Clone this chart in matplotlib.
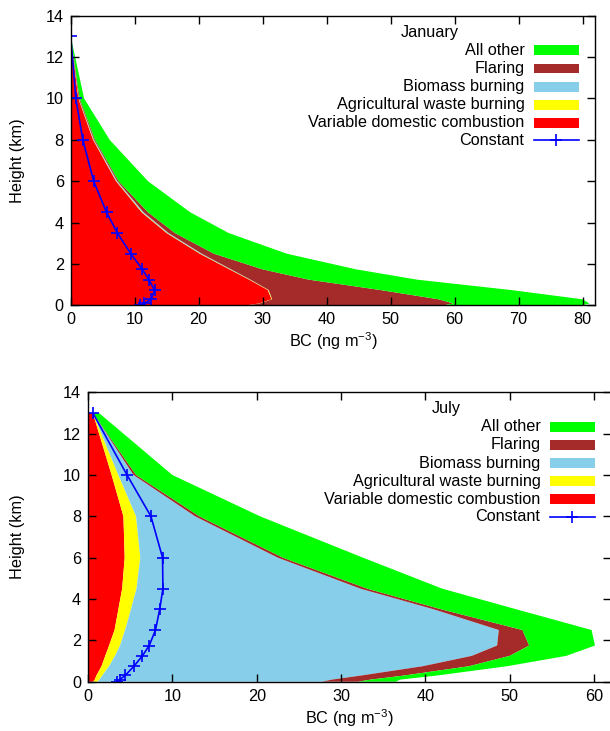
import matplotlib
matplotlib.use("Agg")
import matplotlib.pyplot as plt
import numpy as np
from matplotlib.patches import Rectangle
from matplotlib.lines import Line2D

plt.rcParams['font.family'] = ['Liberation Sans', 'DejaVu Sans']
plt.rcParams['mathtext.fontset'] = 'custom'
plt.rcParams['mathtext.rm'] = 'Liberation Sans'
plt.rcParams['mathtext.it'] = 'Liberation Sans:italic'
plt.rcParams['mathtext.bf'] = 'Liberation Sans:bold'

# ---------------- data ----------------
heights = [0, 0.1, 0.3, 0.75, 1.25, 1.75, 2.5, 3.5, 4.5, 6, 8, 10, 13]

sources = ["Variable domestic combustion", "Agricultural waste burning",
           "Biomass burning", "Flaring", "All other"]
source_colors = ["#ff0000", "#ffff00", "#87ceeb", "#a52a2a", "#00ff00"]

# January contributions (ng m-3), bottom to top
jan_domestic = [27.4, 29.5, 31.4, 30.8, 27.9, 24.8, 20.2, 15.0, 11.1, 7.1, 3.5, 1.2, 0.0]
jan_agri     = [0.1, 0.1, 0.1, 0.1, 0.1, 0.1, 0.1, 0.1, 0.1, 0.05, 0.05, 0.03, 0.0]
jan_biomass  = [0.0, 0.0, 0.0, 0.05, 0.1, 0.15, 0.2, 0.2, 0.2, 0.15, 0.1, 0.05, 0.0]
jan_flaring  = [30.7, 30.2, 26.0, 17.4, 9.1, 4.9, 1.9, 1.0, 0.7, 0.2, 0.15, 0.12, 0.0]
jan_other    = [21.7, 21.3, 22.5, 20.4, 16.9, 14.6, 11.4, 8.4, 6.6, 4.6, 2.3, 0.7, 0.0]
jan_constant = [10.9, 11.5, 12.6, 13.1, 12.2, 11.2, 9.4, 7.3, 5.6, 3.6, 1.9, 0.8, 0.0]

# July contributions (ng m-3), bottom to top
jul_domestic = [0.6, 0.8, 1.0, 1.6, 2.05, 2.5, 3.15, 3.6, 4.05, 4.35, 4.2, 2.8, 0.57]
jul_agri     = [0.5, 0.55, 0.7, 0.9, 1.15, 1.3, 1.25, 1.5, 1.7, 1.85, 1.5, 0.8, 0.0]
jul_biomass  = [26.6, 27.55, 30.7, 37.2, 42.3, 44.7, 44.3, 35.9, 26.55, 16.3, 7.0, 1.8, 0.0]
jul_flaring  = [4.3, 4.6, 5.1, 5.5, 4.5, 3.8, 2.8, 0.9, 0.8, 0.6, 0.5, 0.3, 0.0]
jul_other    = [4.5, 3.5, 3.9, 4.5, 6.7, 7.8, 8.2, 8.9, 8.9, 9.5, 7.2, 4.3, 0.73]
jul_constant = [3.45, 3.75, 4.4, 5.45, 6.45, 7.26, 8.0, 8.5, 8.88, 8.84, 7.46, 4.63, 0.57]

x_ticks_jan = [0, 10, 20, 30, 40, 50, 60, 70, 80]
x_ticks_jul = [0, 10, 20, 30, 40, 50, 60]
y_ticks = [0, 2, 4, 6, 8, 10, 12, 14]

FS = 11.7

fig = plt.figure(figsize=(6.10, 7.31), dpi=100)
ax1 = fig.add_axes([70.7 / 610, 1 - 305.5 / 731, 524.6 / 610, 289.8 / 731])
ax2 = fig.add_axes([88.0 / 610, 1 - 681.7 / 731, 523.0 / 610, 289.4 / 731])


def draw(ax, month, layers, constant, xmax, xticks):
    h = np.array(heights)
    lower = np.zeros(len(h))
    for vals, col in zip(layers, source_colors):
        upper = lower + np.array(vals)
        ax.fill_betweenx(h, lower, upper, facecolor=col, edgecolor='none', lw=0)
        lower = upper
    ax.plot(constant, h, color='#0000ff', lw=1.2, marker='+', ms=9, mew=1.2)
    ax.set_xlim(0, xmax)
    ax.set_ylim(0, 14)
    ax.set_xticks(xticks)
    ax.set_yticks(y_ticks)
    ax.tick_params(direction='in', length=6, width=1, top=True, right=True,
                   labelsize=FS, pad=5, colors='black')
    for s in ax.spines.values():
        s.set_linewidth(1.0)
    ax.set_ylabel("Height (km)", fontsize=FS, va='center')
    ax.set_xlabel("BC (ng m$^{-3}$)", fontsize=FS, va='center')

    # gnuplot-style key: right-aligned text, sample to the right
    tr = ax.transAxes
    ax.text(0.685, 0.943, month, transform=tr, ha='center', va='center', fontsize=FS)
    rows = [0.881, 0.818, 0.755, 0.693, 0.631, 0.570]
    labels = ["All other", "Flaring", "Biomass burning", "Agricultural waste burning",
              "Variable domestic combustion", "Constant"]
    cols = ["#00ff00", "#a52a2a", "#87ceeb", "#ffff00", "#ff0000"]
    for i, (lab, y) in enumerate(zip(labels, rows)):
        ax.text(0.865, y, lab, transform=tr, ha='right', va='center', fontsize=FS)
        if i < 5:
            ax.add_patch(Rectangle((0.883, y - 0.017), 0.086, 0.034, transform=tr,
                                   facecolor=cols[i], edgecolor='none', clip_on=False))
        else:
            ax.add_line(Line2D([0.883, 0.969], [y, y], transform=tr, color='#0000ff', lw=1.2))
            ax.add_line(Line2D([0.926], [y], transform=tr, color='#0000ff', marker='+',
                               ms=9, mew=1.2, lw=0))


draw(ax1, "January", [jan_domestic, jan_agri, jan_biomass, jan_flaring, jan_other],
     jan_constant, 82, x_ticks_jan)
draw(ax2, "July", [jul_domestic, jul_agri, jul_biomass, jul_flaring, jul_other],
     jul_constant, 62, x_ticks_jul)

ax1.yaxis.set_label_coords((18 - 70.7) / 524.6, 0.5)
ax2.yaxis.set_label_coords((18 - 88.0) / 523.0, 0.5)
ax1.xaxis.set_label_coords(0.5, -(341 - 305.5) / 289.8)
ax2.xaxis.set_label_coords(0.5, -(718 - 681.7) / 289.4)

fig.savefig("out.png", dpi=100)
